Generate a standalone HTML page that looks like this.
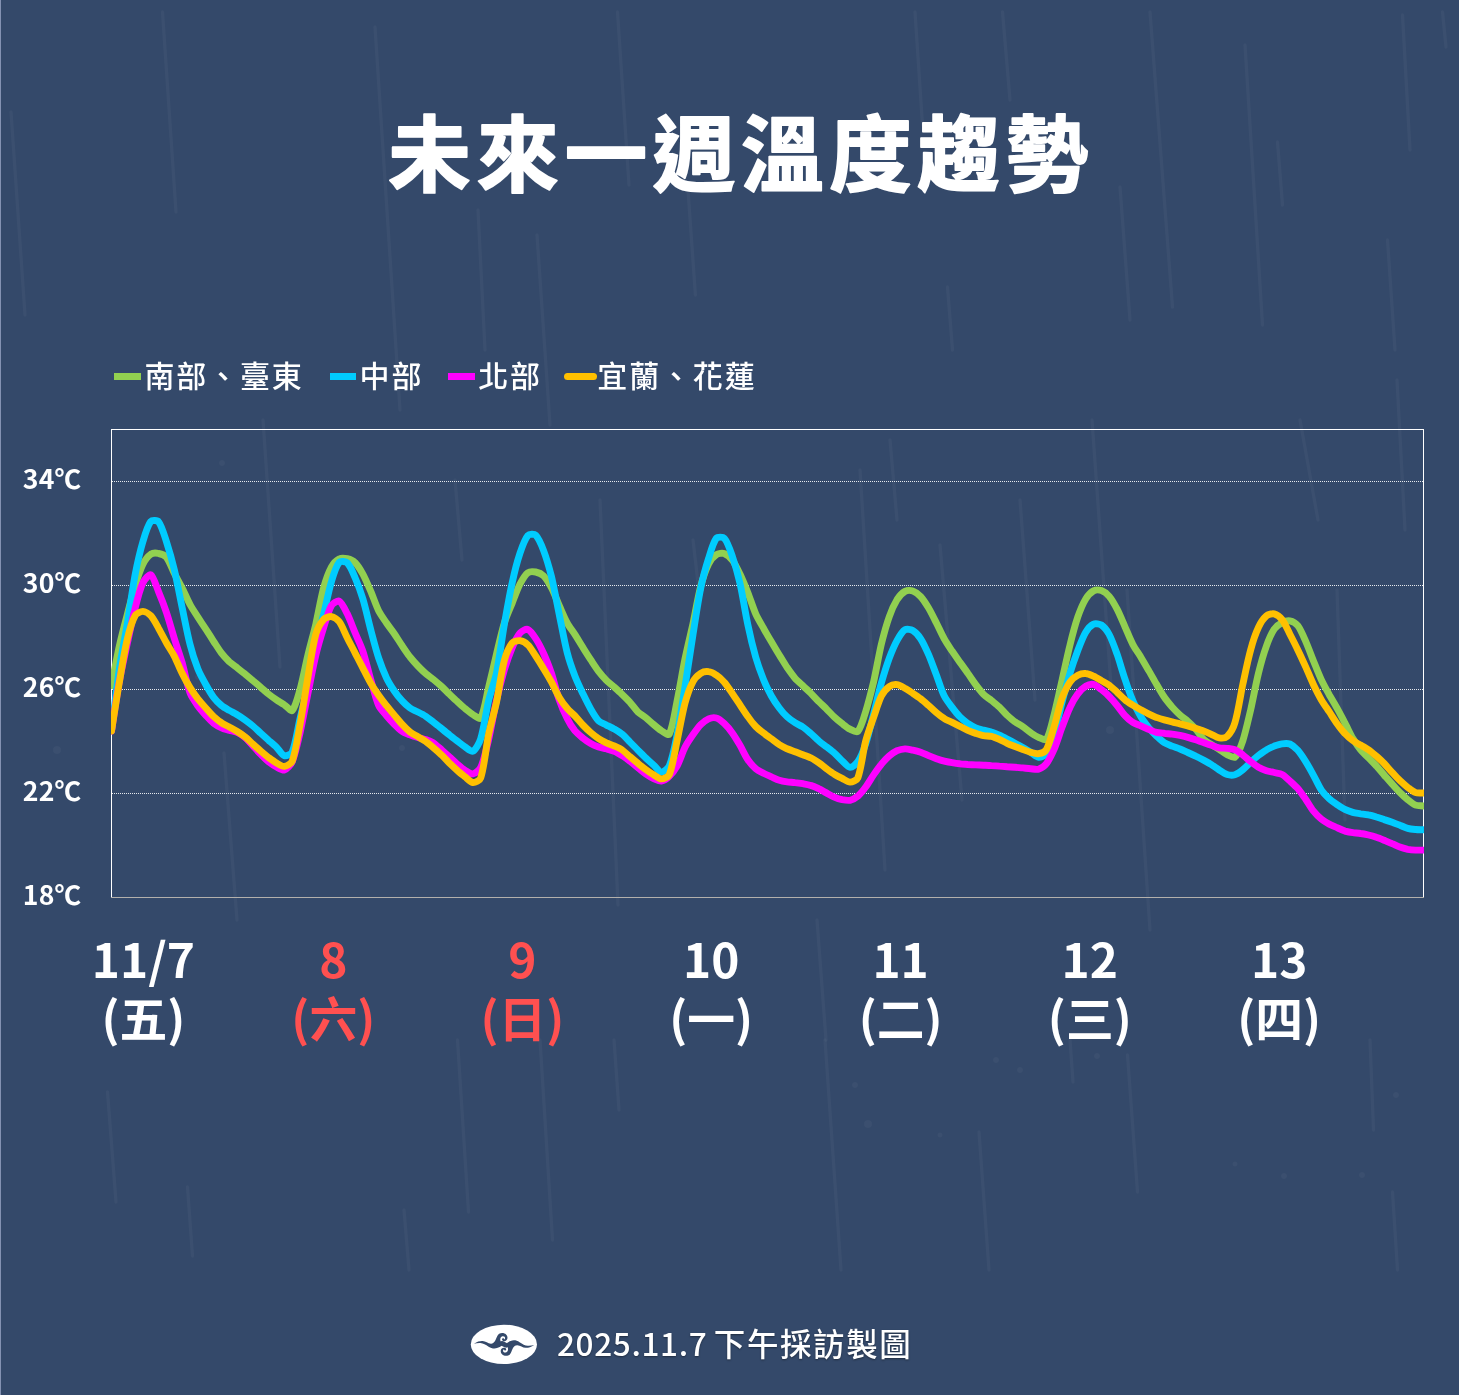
<!DOCTYPE html>
<html lang="zh-Hant">
<head>
<meta charset="utf-8">
<title>未來一週溫度趨勢</title>
<style>
html,body{margin:0;padding:0;}
body{width:1459px;height:1395px;background:#34496a;overflow:hidden;position:relative;
  font-family:"Liberation Sans","Noto Sans CJK TC",sans-serif;color:#fff;}
#bg{position:absolute;left:0;top:0;width:1459px;height:1395px;filter:blur(.5px);}
#edge{position:absolute;left:0;top:0;width:1px;height:1395px;background:#8492b2;}
.legend{position:absolute;top:350px;height:48px;line-height:48px;font-size:30px;letter-spacing:1.85px;white-space:nowrap;
  font-family:"Noto Sans CJK TC","Liberation Sans",sans-serif;font-weight:500;}
.legend i{position:absolute;top:22.8px;height:7px;width:26.5px;display:block;}
.legend span{position:absolute;left:30px;top:0;}
.ylab{position:absolute;left:0;width:104px;text-align:center;font-family:"Noto Sans CJK TC","Liberation Sans",sans-serif;
  font-weight:700;font-size:26.6px;line-height:30px;height:30px;white-space:nowrap;letter-spacing:0.1px;}
.xlab{position:absolute;top:927.5px;width:160px;text-align:center;font-family:"Noto Sans CJK TC","Liberation Sans",sans-serif;
  font-weight:700;font-size:47.8px;line-height:59px;white-space:nowrap;}
.xlab.red{color:#ff5050;}
#chart{position:absolute;left:0;top:0;width:1459px;height:1395px;}
#foot{position:absolute;left:557px;top:1318.3px;font-size:31.5px;line-height:48px;white-space:nowrap;
  font-family:"Noto Sans CJK TC","Liberation Sans",sans-serif;font-weight:500;text-shadow:0 1px 2px rgba(0,0,0,.4);}
#foot .d{letter-spacing:.65px;}
#foot .c{letter-spacing:1.6px;margin-left:-.6px;}
#logo{position:absolute;left:470px;top:1324px;width:68px;height:41px;}
</style>
</head>
<body>
<svg id="bg" width="1459" height="1395" viewBox="0 0 1459 1395">
  <g stroke="#fff" stroke-opacity=".034" stroke-width="3.4" stroke-linecap="round" fill="none"><line x1="162.5" y1="12.0" x2="176.0" y2="212.0"/><line x1="375.0" y1="27.0" x2="400.0" y2="410.0"/><line x1="617.5" y1="12.0" x2="629.0" y2="185.0"/><line x1="11.0" y1="112.0" x2="25.0" y2="315.0"/><line x1="478.0" y1="210.0" x2="485.0" y2="350.0"/><line x1="537.0" y1="235.0" x2="550.0" y2="425.0"/><line x1="688.0" y1="190.0" x2="695.4" y2="295.0"/><line x1="915.0" y1="12.0" x2="922.5" y2="125.0"/><line x1="1002.5" y1="12.0" x2="1010.0" y2="100.0"/><line x1="1150.0" y1="12.0" x2="1172.5" y2="307.0"/><line x1="1245.0" y1="45.0" x2="1262.5" y2="325.0"/><line x1="1277.5" y1="142.0" x2="1282.5" y2="205.0"/><line x1="1120.0" y1="187.0" x2="1130.0" y2="320.0"/><line x1="947.5" y1="287.0" x2="952.5" y2="350.0"/><line x1="1402.5" y1="15.0" x2="1410.0" y2="150.0"/><line x1="1442.5" y1="12.0" x2="1446.0" y2="47.0"/><line x1="1387.5" y1="240.0" x2="1395.0" y2="350.0"/><line x1="107.5" y1="1092.0" x2="116.0" y2="1202.0"/><line x1="187.5" y1="1187.0" x2="192.5" y2="1256.0"/><line x1="457.5" y1="1040.0" x2="468.5" y2="1212.0"/><line x1="404.0" y1="1210.0" x2="409.0" y2="1270.0"/><line x1="540.0" y1="1040.0" x2="552.5" y2="1240.0"/><line x1="614.0" y1="1040.0" x2="619.0" y2="1110.0"/><line x1="825.0" y1="1040.0" x2="841.0" y2="1270.0"/><line x1="979.0" y1="1132.0" x2="989.0" y2="1270.0"/><line x1="1127.5" y1="1055.0" x2="1137.5" y2="1192.0"/><line x1="1070.0" y1="1040.0" x2="1073.0" y2="1082.0"/><line x1="1392.5" y1="1192.0" x2="1397.5" y2="1270.0"/><line x1="1370.0" y1="1040.0" x2="1373.5" y2="1130.0"/><line x1="263.0" y1="420.0" x2="280.0" y2="667.0"/><line x1="224.0" y1="753.0" x2="237.0" y2="920.0"/><line x1="600.0" y1="500.0" x2="618.0" y2="905.0"/><line x1="693.0" y1="540.0" x2="700.0" y2="600.0"/><line x1="817.0" y1="920.0" x2="826.0" y2="1040.0"/><line x1="890.0" y1="440.0" x2="897.0" y2="520.0"/><line x1="860.0" y1="470.0" x2="885.0" y2="870.0"/><line x1="940.0" y1="545.0" x2="962.0" y2="800.0"/><line x1="1092.0" y1="420.0" x2="1112.0" y2="700.0"/><line x1="1127.0" y1="590.0" x2="1150.0" y2="930.0"/><line x1="1300.0" y1="420.0" x2="1318.0" y2="520.0"/><line x1="1397" y1="380" x2="1405" y2="530"/><line x1="1337.0" y1="590.0" x2="1345.0" y2="820.0"/><line x1="1020.0" y1="500.0" x2="1035.0" y2="700.0"/><line x1="455.0" y1="480.0" x2="462.0" y2="560.0"/></g>
  <g fill="#fff" fill-opacity=".035"><circle cx="57" cy="750" r="4.0"/><circle cx="1097" cy="1056" r="3.0"/><circle cx="868" cy="1124" r="4.0"/><circle cx="1020" cy="1070" r="3.0"/><circle cx="996" cy="1060" r="3.0"/><circle cx="1284" cy="1176" r="3.0"/><circle cx="1362" cy="1175" r="3.0"/><circle cx="402" cy="748" r="3.0"/><circle cx="222" cy="463" r="3.0"/><circle cx="198" cy="677" r="3.0"/><circle cx="1110" cy="730" r="4.0"/><circle cx="855" cy="1085" r="3.0"/><circle cx="940" cy="1135" r="2.5"/><circle cx="1235" cy="1164" r="2.5"/><circle cx="1396" cy="1095" r="3.0"/></g>
</svg>
<div id="edge"></div>

<div class="legend" style="left:114.4px"><i style="background:#92d050"></i><span>南部、臺東</span></div>
<div class="legend" style="left:329.6px"><i style="background:#00ccff"></i><span>中部</span></div>
<div class="legend" style="left:448.2px"><i style="background:#ff00ff"></i><span>北部</span></div>
<div class="legend" style="left:567.3px"><i style="background:#ffc000;border-radius:4px;left:-3px;width:33px"></i><span>宜蘭、花蓮</span></div>

<div class="ylab" style="top:463.2px">34℃</div>
<div class="ylab" style="top:567.2px">30℃</div>
<div class="ylab" style="top:671.2px">26℃</div>
<div class="ylab" style="top:775.2px">22℃</div>
<div class="ylab" style="top:879.2px">18℃</div>

<svg id="chart" width="1459" height="1395" viewBox="0 0 1459 1395">
  <text id="title" x="429.5 517.7 605.9 694.1 782.3 870.5 958.7 1046.9" y="185" text-anchor="middle" font-family="'Noto Sans CJK TC','Liberation Sans',sans-serif" font-weight="700" font-size="82.5" fill="#fff" stroke="#fff" stroke-width="1.8" stroke-linejoin="round" stroke-linecap="round" paint-order="stroke">未來一週溫度趨勢</text>
  <defs><clipPath id="plot"><rect x="111" y="429" width="1313" height="469"/></clipPath></defs>
  <g stroke="#fff" stroke-opacity=".88" stroke-width="1" stroke-dasharray="1 1" fill="none" shape-rendering="crispEdges">
    <line x1="112" y1="481.5" x2="1423" y2="481.5"/>
    <line x1="112" y1="585.5" x2="1423" y2="585.5"/>
    <line x1="112" y1="689.5" x2="1423" y2="689.5"/>
    <line x1="112" y1="793.5" x2="1423" y2="793.5"/>
  </g>
  <g fill="none" shape-rendering="crispEdges">
    <line x1="111" y1="897.5" x2="1424" y2="897.5" stroke="#b3b0ac" stroke-width="1"/>
    <path d="M111.5 897V429.5H1423.5V897" stroke="#fff" stroke-width="1"/>
  </g>
  <g clip-path="url(#plot)" fill="none" stroke-width="6.9" stroke-linejoin="round" stroke-linecap="round">
<g transform="translate(0,-0.5)">
<path d="M111.5 686.0C113.7 674.9 116.9 657.3 119.4 646.2C121.3 637.5 124.9 623.9 127.2 615.3C129.3 607.1 132.6 594.3 135.1 586.2C137.0 580.1 140.1 570.4 142.9 564.7C144.5 561.5 148.1 556.6 150.8 554.7C152.5 553.6 156.6 553.5 158.6 554.0C161.0 554.4 165.0 556.1 166.5 557.9C169.4 561.7 172.1 569.5 174.4 574.0C176.5 578.1 180.1 584.4 182.2 588.6C184.5 593.1 187.6 600.6 190.1 605.1C192.0 608.7 195.7 614.1 197.9 617.6C200.1 621.0 203.6 626.3 205.8 629.6C208.0 633.0 211.4 638.4 213.6 641.8C215.8 645.1 219.1 650.5 221.5 653.6C223.5 656.2 227.0 659.9 229.3 662.2C231.4 664.1 235.0 666.6 237.2 668.3C239.4 670.1 242.9 672.9 245.1 674.6C247.3 676.5 250.7 679.3 252.9 681.2C255.1 683.0 258.6 685.9 260.8 687.8C263.0 689.7 266.3 692.8 268.6 694.6C270.7 696.3 274.2 698.8 276.5 700.4C278.6 701.8 282.2 703.8 284.3 705.3C286.6 706.8 290.9 712.3 292.2 711.0C295.3 707.9 298.3 695.8 300.1 689.7C302.7 680.3 305.6 665.0 307.9 655.5C310.0 646.8 313.7 633.4 315.8 624.7C318.1 614.6 320.9 598.5 323.6 588.5C325.3 582.4 328.6 572.9 331.5 567.5C333.0 564.8 336.7 560.7 339.3 559.4C341.1 558.4 345.1 558.7 347.2 559.2C349.5 559.7 353.4 561.4 355.0 563.1C357.8 565.7 361.0 571.2 362.9 574.6C365.4 579.3 368.7 587.0 370.8 591.8C373.1 597.2 376.0 605.9 378.6 611.2C380.4 614.8 384.2 620.1 386.5 623.5C388.6 626.6 392.2 631.1 394.3 634.2C396.6 637.5 399.9 643.0 402.2 646.3C404.3 649.5 407.7 654.5 410.0 657.5C412.1 660.1 415.6 664.1 417.9 666.5C420.0 668.7 423.5 672.1 425.8 674.1C427.8 675.9 431.5 678.4 433.6 680.1C435.9 682.0 439.3 684.9 441.5 686.9C443.7 688.9 447.1 692.4 449.3 694.5C451.5 696.6 454.9 699.9 457.2 701.9C459.3 703.9 462.8 707.1 465.0 709.0C467.2 710.7 470.5 713.6 472.9 715.1C474.9 716.3 479.8 720.2 480.7 718.6C484.2 712.6 486.5 696.5 488.6 687.9C490.9 678.6 494.2 663.8 496.5 654.5C498.6 645.8 501.7 632.0 504.3 623.5C506.1 617.8 509.9 609.2 512.2 603.6C514.3 598.2 517.4 589.6 520.0 584.5C521.8 581.1 525.1 575.3 527.9 573.2C529.5 572.0 533.7 572.1 535.7 572.5C538.1 573.0 541.9 574.7 543.6 576.4C546.3 579.2 549.6 584.8 551.5 588.3C554.0 593.1 557.1 601.2 559.3 606.2C561.5 611.1 564.6 618.8 567.2 623.5C569.0 626.9 572.9 631.9 575.0 635.2C577.3 638.7 580.6 644.4 582.9 647.9C585.0 651.4 588.5 656.8 590.7 660.2C592.9 663.5 596.2 668.7 598.6 671.8C600.6 674.4 604.1 678.4 606.4 680.8C608.5 682.9 612.1 685.6 614.3 687.6C616.5 689.6 620.0 692.8 622.2 694.9C624.4 697.0 627.9 700.4 630.0 702.8C632.3 705.3 635.4 710.0 637.9 712.4C639.8 714.3 643.6 716.4 645.7 718.1C648.0 719.9 651.3 723.1 653.6 725.0C655.7 726.8 659.1 729.7 661.4 731.2C663.5 732.4 668.4 736.3 669.3 734.6C672.8 727.8 675.2 710.4 677.2 700.9C679.6 689.3 682.6 670.9 685.0 659.3C687.0 649.5 690.7 634.3 692.9 624.5C695.1 614.0 698.0 597.3 700.7 586.9C702.4 580.4 705.7 570.3 708.6 564.4C710.1 561.4 713.8 556.8 716.4 555.1C718.2 553.9 722.4 553.4 724.3 554.1C726.8 554.9 730.5 558.2 732.1 560.4C734.9 563.9 738.0 570.5 740.0 574.6C742.4 579.7 745.8 588.0 747.9 593.2C750.2 599.1 753.2 608.5 755.7 614.3C757.6 618.5 761.3 624.8 763.6 628.8C765.7 632.7 769.2 638.6 771.4 642.3C773.6 646.0 777.1 651.8 779.3 655.5C781.5 659.0 784.8 664.6 787.1 668.1C789.2 671.1 792.6 675.9 795.0 678.7C797.0 681.0 800.6 684.1 802.9 686.2C805.0 688.3 808.6 691.5 810.7 693.6C813.0 695.9 816.3 699.7 818.6 701.9C820.7 704.1 824.3 707.2 826.4 709.4C828.7 711.6 832.0 715.4 834.3 717.6C836.4 719.6 839.9 722.4 842.1 724.1C844.3 725.8 847.6 728.5 850.0 729.7C852.0 730.7 856.6 733.4 857.8 732.0C861.0 728.4 863.9 717.7 865.7 711.9C868.3 703.8 871.6 690.7 873.6 682.4C876.0 671.9 878.9 655.0 881.4 644.5C883.3 636.8 886.6 624.6 889.3 617.1C891.0 612.2 894.4 604.4 897.1 600.0C898.8 597.4 902.4 593.3 905.0 591.9C906.8 591.0 910.9 590.9 912.8 591.5C915.3 592.3 918.9 595.1 920.7 597.1C923.3 599.9 926.6 605.2 928.6 608.5C931.0 612.6 934.3 619.3 936.4 623.5C938.7 628.0 941.8 635.1 944.3 639.4C946.2 643.0 949.9 648.3 952.1 651.6C954.3 654.8 957.8 659.7 960.0 662.9C962.2 665.9 965.7 670.7 967.8 673.8C970.1 676.9 973.4 682.0 975.7 685.1C977.8 687.9 981.1 692.3 983.5 694.8C985.5 696.8 989.2 699.2 991.4 700.9C993.6 702.7 997.2 705.5 999.3 707.5C1001.6 709.7 1004.8 713.6 1007.1 715.8C1009.2 717.7 1012.6 720.7 1015.0 722.3C1017.0 723.8 1020.7 725.6 1022.8 727.1C1025.1 728.6 1028.4 731.7 1030.7 733.2C1032.8 734.7 1036.2 736.8 1038.5 737.8C1040.6 738.7 1045.4 741.4 1046.4 739.9C1049.8 734.8 1052.3 721.5 1054.3 714.3C1056.7 704.9 1059.9 690.0 1062.1 680.5C1064.3 670.7 1067.5 655.3 1070.0 645.5C1071.9 637.6 1075.2 625.1 1077.8 617.4C1079.6 612.3 1082.9 604.1 1085.7 599.5C1087.3 596.9 1090.9 592.8 1093.5 591.4C1095.3 590.4 1099.4 590.4 1101.4 591.0C1103.8 591.9 1107.5 594.7 1109.2 596.8C1111.9 600.0 1115.2 606.0 1117.1 609.7C1119.6 614.5 1122.8 622.4 1125.0 627.3C1127.2 632.2 1130.3 640.1 1132.8 644.8C1134.7 648.5 1138.5 653.9 1140.7 657.4C1142.9 661.1 1146.4 667.0 1148.5 670.8C1150.8 674.6 1154.1 680.7 1156.4 684.5C1158.5 688.2 1161.8 694.0 1164.2 697.5C1166.2 700.5 1169.8 704.8 1172.1 707.5C1174.2 709.8 1177.6 713.4 1180.0 715.5C1182.0 717.4 1185.7 719.8 1187.8 721.7C1190.1 723.7 1193.6 727.2 1195.7 729.5C1198.0 732.2 1201.0 737.1 1203.5 739.6C1205.4 741.5 1209.1 743.6 1211.4 745.0C1213.5 746.5 1217.1 748.5 1219.2 749.9C1221.5 751.4 1224.7 754.0 1227.1 755.2C1229.1 756.2 1233.6 759.0 1234.9 757.7C1238.0 755.1 1241.2 746.1 1242.8 741.3C1245.6 732.8 1248.6 719.0 1250.7 710.2C1253.0 700.0 1256.0 683.7 1258.5 673.6C1260.4 665.9 1263.7 654.0 1266.4 646.6C1268.1 641.7 1271.4 633.9 1274.2 629.6C1275.8 627.3 1279.6 624.4 1282.1 623.1C1284.0 622.1 1287.9 620.9 1289.9 621.3C1292.3 621.8 1296.3 624.2 1297.8 626.1C1300.7 629.9 1303.7 637.3 1305.7 641.8C1308.1 647.2 1311.3 656.0 1313.5 661.5C1315.7 666.8 1318.9 675.2 1321.4 680.4C1323.3 684.6 1327.0 691.1 1329.2 695.2C1331.4 699.0 1334.9 704.9 1337.1 708.8C1339.3 712.9 1342.8 719.3 1344.9 723.5C1347.2 727.7 1350.4 734.7 1352.8 738.9C1354.8 742.2 1358.2 747.3 1360.6 750.3C1362.6 752.8 1366.3 756.1 1368.5 758.4C1370.7 760.6 1374.2 764.2 1376.4 766.5C1378.6 769.0 1382.0 773.1 1384.2 775.6C1386.4 778.1 1389.8 782.1 1392.1 784.5C1394.2 786.9 1397.6 790.7 1399.9 793.0C1402.0 795.1 1405.5 798.4 1407.8 800.2C1409.9 801.9 1413.2 804.6 1415.6 805.6C1417.6 806.4 1421.3 806.2 1423.5 806.5" stroke="#92d050"/>
<path d="M111.5 731.0C113.7 713.6 116.8 686.3 119.4 669.0C121.2 656.6 125.1 637.3 127.2 624.9C129.5 611.0 132.5 589.1 135.1 575.3C136.9 565.9 140.2 551.3 142.9 542.1C144.6 536.3 147.6 526.0 150.8 521.9C152.0 520.5 157.5 520.8 158.6 522.3C161.9 526.5 164.6 536.7 166.5 542.4C169.0 550.2 172.5 562.6 174.4 570.5C176.9 581.1 180.0 597.8 182.2 608.4C184.4 618.7 187.4 635.0 190.1 645.2C191.8 652.2 195.3 662.9 197.9 669.6C199.7 674.1 203.4 680.8 205.8 685.0C207.8 688.7 211.1 694.5 213.6 697.8C215.5 700.3 219.1 704.0 221.5 706.0C223.5 707.6 227.1 709.6 229.3 710.9C231.5 712.2 235.1 713.9 237.2 715.2C239.5 716.5 242.9 718.9 245.1 720.5C247.3 722.1 250.8 724.7 252.9 726.5C255.2 728.5 258.6 731.7 260.8 733.7C263.0 735.7 266.4 738.8 268.6 740.8C270.8 742.7 274.4 745.7 276.5 747.7C278.8 750.0 281.8 755.4 284.3 756.1C286.2 756.7 291.3 754.6 292.2 752.5C295.7 744.1 297.8 728.2 300.1 718.7C302.2 709.7 306.0 695.6 307.9 686.5C310.4 674.6 313.2 655.7 315.8 643.9C317.6 635.7 321.6 623.0 323.6 614.8C326.0 605.6 328.7 590.9 331.5 581.9C333.1 576.3 336.1 566.5 339.3 562.7C340.5 561.3 345.8 561.9 347.2 563.3C350.2 566.2 353.2 573.7 355.0 578.0C357.6 583.9 361.1 593.5 362.9 599.6C365.5 608.2 368.5 621.9 370.8 630.5C372.9 638.4 376.1 650.7 378.6 658.4C380.5 664.1 383.9 673.0 386.5 678.5C388.3 682.3 391.9 688.0 394.3 691.5C396.3 694.5 399.8 698.9 402.2 701.4C404.2 703.6 407.6 706.8 410.0 708.5C412.0 709.9 415.7 711.3 417.9 712.5C420.1 713.6 423.7 715.4 425.8 716.8C428.1 718.3 431.4 721.1 433.6 722.8C435.8 724.5 439.3 727.2 441.5 729.0C443.7 730.8 447.1 733.6 449.3 735.3C451.5 737.1 455.0 739.8 457.2 741.5C459.4 743.2 462.7 745.9 465.0 747.4C467.1 748.8 471.2 752.7 472.9 751.8C475.6 750.4 479.5 743.2 480.7 739.3C483.9 729.0 486.1 711.8 488.6 701.2C490.5 693.4 494.8 681.4 496.5 673.5C499.2 660.1 502.0 638.6 504.3 625.1C506.4 613.3 509.6 594.8 512.2 583.2C514.0 574.8 517.3 561.7 520.0 553.6C521.7 548.5 524.8 539.5 527.9 535.9C529.2 534.4 534.4 534.3 535.7 535.6C538.8 538.6 541.9 546.6 543.6 551.1C546.3 558.2 549.6 569.7 551.5 577.1C554.0 587.7 557.1 604.5 559.3 615.2C561.5 625.8 564.5 642.6 567.2 653.1C568.9 659.8 572.5 670.2 575.0 676.7C576.9 681.7 580.6 689.3 582.9 694.2C585.0 698.5 588.3 705.3 590.7 709.4C592.7 712.9 595.9 718.5 598.6 721.3C600.3 723.1 604.2 724.4 606.4 725.6C608.6 726.7 612.2 728.3 614.3 729.6C616.6 730.9 620.1 733.1 622.2 734.7C624.5 736.7 627.8 740.4 630.0 742.6C632.2 744.8 635.7 748.3 637.9 750.6C640.1 752.8 643.5 756.2 645.7 758.4C647.9 760.4 651.4 763.5 653.6 765.5C655.8 767.5 659.2 772.5 661.4 772.6C663.6 772.7 668.3 768.8 669.3 766.3C672.7 758.2 675.4 743.6 677.2 734.6C679.8 721.4 682.9 700.5 685.0 687.2C687.3 672.8 690.6 650.1 692.9 635.7C695.0 622.5 698.0 601.7 700.7 588.7C702.4 580.2 706.0 567.1 708.6 558.9C710.4 553.1 713.2 542.9 716.4 538.7C717.6 537.2 723.0 537.2 724.3 538.7C727.4 542.1 730.4 551.1 732.1 556.1C734.8 563.8 738.2 576.1 740.0 584.1C742.6 595.5 745.4 613.9 747.9 625.4C749.8 634.5 753.2 648.7 755.7 657.6C757.6 664.1 761.1 674.0 763.6 680.2C765.5 684.9 769.0 692.1 771.4 696.5C773.4 700.0 776.9 705.3 779.3 708.5C781.3 711.2 784.7 715.1 787.1 717.3C789.1 719.2 792.7 721.7 795.0 723.2C797.1 724.6 800.8 726.1 802.9 727.5C805.2 729.1 808.6 732.0 810.7 733.9C813.0 735.8 816.3 739.3 818.6 741.2C820.7 743.1 824.2 745.6 826.4 747.3C828.6 749.0 832.2 751.6 834.3 753.5C836.6 755.5 839.9 759.2 842.1 761.3C844.2 763.2 847.7 767.7 850.0 767.8C852.1 768.0 856.4 764.4 857.8 762.2C860.8 757.8 864.0 749.5 865.7 744.3C868.4 736.1 871.4 722.9 873.6 714.5C875.8 705.8 879.0 692.0 881.4 683.4C883.4 676.4 886.8 665.4 889.3 658.6C891.2 653.5 894.5 645.5 897.1 640.8C898.9 637.6 902.2 632.0 905.0 630.3C906.6 629.3 911.0 629.9 912.8 631.0C915.4 632.5 919.0 636.6 920.7 639.3C923.4 643.4 926.6 650.6 928.6 655.1C931.0 660.7 934.2 669.7 936.4 675.4C938.6 681.3 941.5 690.9 944.3 696.6C945.9 700.0 949.8 704.8 952.1 707.9C954.2 710.7 957.6 715.0 960.0 717.4C962.0 719.4 965.5 722.2 967.8 723.9C969.9 725.3 973.4 727.3 975.7 728.3C977.8 729.3 981.3 730.1 983.5 730.7C985.7 731.3 989.3 731.8 991.4 732.5C993.7 733.2 997.1 734.7 999.3 735.7C1001.5 736.7 1004.9 738.4 1007.1 739.5C1009.3 740.7 1012.8 742.6 1015.0 743.8C1017.2 745.0 1020.7 746.7 1022.8 747.9C1025.1 749.2 1028.5 751.5 1030.7 752.8C1032.9 754.2 1036.3 757.6 1038.5 757.8C1040.7 758.0 1045.2 756.1 1046.4 754.2C1049.6 749.4 1052.5 739.7 1054.3 733.8C1056.9 725.2 1059.8 711.4 1062.1 702.7C1064.2 694.6 1067.5 681.8 1070.0 673.8C1071.9 667.3 1075.4 657.2 1077.8 650.9C1079.8 645.7 1082.9 637.4 1085.7 632.7C1087.3 630.0 1091.0 625.8 1093.5 624.6C1095.4 623.8 1099.7 624.4 1101.4 625.5C1104.1 627.3 1107.6 632.0 1109.2 635.0C1112.0 640.2 1115.1 649.1 1117.1 654.7C1119.5 661.6 1122.6 672.7 1125.0 679.6C1127.0 685.7 1130.3 695.3 1132.8 701.2C1134.7 705.7 1138.2 712.8 1140.7 717.1C1142.6 720.3 1146.2 725.1 1148.5 728.0C1150.6 730.5 1154.1 734.2 1156.4 736.4C1158.5 738.4 1161.8 741.6 1164.2 743.1C1166.2 744.4 1169.9 745.7 1172.1 746.6C1174.3 747.5 1177.8 748.6 1180.0 749.5C1182.2 750.4 1185.6 752.0 1187.8 753.0C1190.0 754.0 1193.5 755.6 1195.7 756.7C1197.9 757.7 1201.4 759.5 1203.5 760.6C1205.8 761.8 1209.2 763.8 1211.4 765.1C1213.6 766.5 1217.0 769.1 1219.2 770.5C1221.4 771.9 1224.7 774.3 1227.1 775.0C1229.1 775.6 1232.9 775.8 1234.9 775.2C1237.3 774.5 1240.8 771.9 1242.8 770.3C1245.2 768.4 1248.4 764.9 1250.7 762.8C1252.8 760.8 1256.2 757.7 1258.5 755.9C1260.6 754.3 1264.1 751.7 1266.4 750.4C1268.5 749.1 1272.0 747.5 1274.2 746.6C1276.4 745.8 1279.8 744.6 1282.1 744.3C1284.2 744.0 1288.0 743.8 1289.9 744.5C1292.4 745.6 1295.9 748.7 1297.8 750.8C1300.3 753.7 1303.6 758.8 1305.7 762.1C1308.0 765.8 1311.4 771.9 1313.5 775.8C1315.8 779.9 1318.8 786.7 1321.4 790.6C1323.2 793.3 1326.8 797.0 1329.2 799.2C1331.2 801.1 1334.8 803.5 1337.1 805.1C1339.2 806.5 1342.6 808.8 1344.9 809.9C1347.0 811.0 1350.5 812.2 1352.8 812.9C1354.9 813.5 1358.4 813.9 1360.6 814.3C1362.8 814.6 1366.3 814.9 1368.5 815.4C1370.7 815.8 1374.2 816.8 1376.4 817.5C1378.6 818.1 1382.0 819.3 1384.2 820.1C1386.4 820.8 1389.9 822.0 1392.1 822.8C1394.3 823.6 1397.8 824.8 1399.9 825.7C1402.1 826.5 1405.5 828.3 1407.8 828.9C1409.9 829.5 1413.4 829.8 1415.6 830.0C1417.8 830.2 1421.3 830.2 1423.5 830.3" stroke="#00ccff"/>
<path d="M111.5 731.5C113.7 717.5 116.8 695.5 119.4 681.6C121.2 671.2 125.0 654.9 127.2 644.5C129.4 634.5 132.5 618.8 135.1 608.9C136.9 601.6 139.8 589.9 142.9 583.3C144.2 580.5 149.1 574.4 150.8 575.3C153.5 576.9 156.6 587.5 158.6 592.3C161.0 598.0 164.5 607.2 166.5 613.1C168.9 620.3 172.1 631.9 174.4 639.2C176.5 646.0 180.2 656.4 182.2 663.2C184.6 671.7 187.1 685.4 190.1 693.6C191.5 697.5 195.5 703.0 197.9 706.4C199.9 709.2 203.5 713.3 205.8 715.8C207.9 718.1 211.2 721.9 213.6 723.8C215.6 725.4 219.2 727.3 221.5 728.3C223.6 729.3 227.1 730.1 229.3 730.8C231.5 731.4 235.2 731.9 237.2 732.9C239.6 734.0 243.1 736.3 245.1 738.0C247.5 740.0 250.7 743.9 252.9 746.3C255.1 748.7 258.5 752.6 260.8 754.9C262.9 757.1 266.3 760.4 268.6 762.3C270.7 763.9 274.2 766.3 276.5 767.5C278.6 768.6 282.5 771.1 284.3 770.5C286.9 769.6 291.0 765.1 292.2 762.3C295.4 754.7 298.2 741.3 300.1 733.1C302.6 722.2 305.7 704.9 307.9 694.0C310.1 683.3 313.2 666.5 315.8 655.9C317.6 648.0 321.2 635.9 323.6 628.2C325.6 621.9 328.3 611.3 331.5 605.9C332.7 603.9 337.7 600.8 339.3 601.7C342.1 603.2 345.3 610.5 347.2 614.2C349.7 619.3 352.8 627.7 355.0 633.0C357.2 638.3 361.1 646.4 362.9 651.8C365.5 659.6 368.5 672.3 370.8 680.2C372.9 687.4 375.6 699.1 378.6 705.8C380.0 709.1 384.2 713.4 386.5 716.2C388.6 718.7 392.0 722.4 394.3 724.8C396.4 726.9 399.7 730.3 402.2 731.9C404.1 733.3 407.8 734.5 410.0 735.4C412.2 736.3 415.7 737.4 417.9 738.0C420.1 738.7 423.6 739.4 425.8 740.1C428.0 740.9 431.6 742.3 433.6 743.5C436.0 745.1 439.3 748.3 441.5 750.2C443.7 752.2 447.1 755.3 449.3 757.3C451.5 759.3 454.9 762.6 457.2 764.6C459.3 766.4 462.7 769.3 465.0 770.8C467.1 772.0 470.9 774.8 472.9 774.4C475.3 774.0 479.6 770.5 480.7 768.0C484.0 760.9 486.7 748.0 488.6 740.1C491.1 729.2 494.0 711.9 496.5 701.0C498.4 692.5 501.8 679.1 504.3 670.6C506.2 664.3 509.6 654.3 512.2 648.1C514.0 643.8 517.1 636.8 520.0 633.5C521.5 631.7 526.0 629.2 527.9 629.9C530.4 630.8 533.9 636.2 535.7 639.0C538.3 642.9 541.7 649.7 543.6 654.0C546.1 659.4 549.5 668.2 551.5 673.9C553.9 681.3 556.7 693.3 559.3 700.7C561.1 705.9 564.6 714.0 567.2 718.9C569.0 722.6 572.5 728.2 575.0 731.4C576.9 733.7 580.6 736.7 582.9 738.6C585.0 740.3 588.4 742.8 590.7 744.1C592.8 745.3 596.3 746.8 598.6 747.6C600.7 748.3 604.3 748.7 606.4 749.3C608.7 749.9 612.2 751.0 614.3 751.9C616.6 752.9 620.0 754.9 622.2 756.2C624.4 757.6 627.9 760.1 630.0 761.8C632.3 763.5 635.7 766.4 637.9 768.2C640.1 769.9 643.4 772.8 645.7 774.4C647.8 775.8 651.3 778.0 653.6 779.1C655.7 780.0 659.4 781.9 661.4 781.6C663.8 781.3 667.5 778.7 669.3 776.9C671.9 774.4 675.4 769.6 677.2 766.4C679.8 761.4 682.5 752.8 685.0 747.8C686.9 744.1 690.5 738.7 692.9 735.3C694.9 732.4 698.2 727.7 700.7 725.1C702.6 723.2 706.2 720.4 708.6 719.4C710.5 718.5 714.5 717.9 716.4 718.5C718.9 719.2 722.3 722.2 724.3 724.1C726.7 726.4 730.2 730.5 732.1 733.2C734.6 736.6 737.9 742.2 740.0 745.8C742.3 749.8 745.3 756.5 747.9 760.3C749.7 763.0 753.2 766.9 755.7 769.1C757.6 770.7 761.3 772.6 763.6 773.8C765.7 774.9 769.2 776.3 771.4 777.3C773.6 778.3 777.0 780.1 779.3 780.8C781.4 781.5 784.9 782.1 787.1 782.4C789.3 782.7 792.8 782.8 795.0 783.1C797.2 783.3 800.7 783.8 802.9 784.2C805.1 784.6 808.6 785.2 810.7 785.9C813.0 786.6 816.4 788.0 818.6 789.1C820.8 790.1 824.2 792.2 826.4 793.4C828.6 794.6 832.0 796.6 834.3 797.6C836.4 798.5 839.9 799.7 842.1 800.2C844.3 800.6 847.9 801.2 850.0 800.8C852.3 800.3 856.0 798.3 857.8 796.7C860.4 794.6 863.7 790.2 865.7 787.5C868.1 784.2 871.3 778.7 873.6 775.4C875.7 772.3 879.0 767.5 881.4 764.7C883.4 762.2 886.9 758.5 889.3 756.4C891.3 754.7 894.8 752.3 897.1 751.2C899.2 750.3 902.8 749.5 905.0 749.4C907.2 749.3 910.7 750.2 912.8 750.6C915.1 751.1 918.6 752.0 920.7 752.7C923.0 753.5 926.3 755.2 928.6 756.2C930.7 757.1 934.2 758.4 936.4 759.2C938.6 760.0 942.0 761.1 944.3 761.7C946.4 762.2 949.9 762.9 952.1 763.2C954.3 763.6 957.8 764.1 960.0 764.3C962.2 764.6 965.6 764.8 967.8 765.0C970.0 765.1 973.5 765.3 975.7 765.4C977.9 765.5 981.3 765.6 983.5 765.7C985.7 765.8 989.2 765.9 991.4 766.1C993.6 766.2 997.1 766.4 999.3 766.6C1001.5 766.7 1004.9 767.0 1007.1 767.2C1009.3 767.3 1012.8 767.6 1015.0 767.8C1017.2 768.0 1020.6 768.2 1022.8 768.4C1025.0 768.6 1028.5 769.1 1030.7 769.2C1032.9 769.4 1036.6 770.3 1038.5 769.7C1041.0 768.9 1044.8 766.3 1046.4 764.2C1049.2 760.6 1052.4 753.7 1054.3 749.4C1056.8 743.5 1059.8 733.7 1062.1 727.6C1064.2 722.0 1067.4 713.2 1070.0 707.9C1071.8 703.9 1075.2 697.8 1077.8 694.4C1079.6 691.9 1083.1 688.2 1085.7 686.7C1087.5 685.6 1091.5 684.4 1093.5 684.9C1095.9 685.4 1099.3 688.5 1101.4 690.1C1103.7 691.9 1107.2 694.9 1109.2 697.0C1111.6 699.4 1115.0 703.4 1117.1 706.0C1119.4 708.8 1122.5 713.5 1125.0 716.1C1126.9 718.2 1130.4 721.2 1132.8 722.8C1134.8 724.1 1138.5 725.3 1140.7 726.3C1142.9 727.3 1146.3 728.8 1148.5 729.8C1150.7 730.7 1154.1 732.3 1156.4 732.9C1158.5 733.4 1162.0 733.6 1164.2 733.8C1166.4 734.1 1169.9 734.3 1172.1 734.6C1174.3 734.9 1177.8 735.5 1180.0 735.9C1182.2 736.4 1185.6 737.2 1187.8 737.8C1190.0 738.4 1193.5 739.5 1195.7 740.3C1197.9 741.0 1201.3 742.3 1203.5 743.0C1205.7 743.8 1209.2 745.1 1211.4 745.8C1213.6 746.5 1217.0 747.9 1219.2 748.3C1221.4 748.7 1224.9 748.5 1227.1 748.8C1229.3 749.1 1232.9 749.4 1234.9 750.2C1237.3 751.2 1240.7 753.8 1242.8 755.4C1245.1 757.1 1248.4 760.3 1250.7 762.1C1252.8 763.8 1256.2 766.3 1258.5 767.7C1260.6 768.9 1264.1 770.5 1266.4 771.3C1268.5 772.0 1272.0 772.5 1274.2 773.0C1276.4 773.6 1280.1 774.0 1282.1 775.0C1284.5 776.3 1287.8 779.6 1289.9 781.5C1292.2 783.6 1295.8 786.8 1297.8 789.1C1300.2 791.9 1303.5 796.8 1305.7 799.8C1307.9 803.1 1311.0 808.6 1313.5 811.7C1315.4 814.1 1319.0 817.7 1321.4 819.7C1323.4 821.3 1326.9 823.4 1329.2 824.6C1331.3 825.7 1334.9 827.2 1337.1 828.2C1339.3 829.2 1342.7 830.8 1344.9 831.6C1347.1 832.2 1350.6 832.9 1352.8 833.2C1355.0 833.5 1358.5 833.6 1360.6 834.0C1362.9 834.3 1366.3 835.0 1368.5 835.5C1370.7 836.0 1374.2 837.0 1376.4 837.8C1378.6 838.5 1382.0 839.9 1384.2 840.8C1386.4 841.7 1389.9 843.1 1392.1 844.1C1394.3 845.0 1397.7 846.8 1399.9 847.6C1402.1 848.4 1405.6 849.3 1407.8 849.8C1410.0 850.2 1413.4 850.5 1415.6 850.6C1417.8 850.7 1421.3 850.6 1423.5 850.6" stroke="#ff00ff"/>
<path d="M111.5 731.5C113.7 717.8 117.0 696.2 119.4 682.5C121.4 670.6 124.4 651.9 127.2 640.1C128.8 633.3 131.8 622.0 135.1 616.2C136.2 614.1 140.7 611.9 142.9 611.9C145.1 611.9 149.1 614.4 150.8 616.2C153.5 619.1 156.6 625.3 158.6 628.9C161.0 632.9 164.2 639.5 166.5 643.5C168.6 647.3 172.4 653.0 174.4 656.8C176.8 661.5 179.8 669.2 182.2 673.9C184.2 678.0 187.7 684.4 190.1 688.2C192.1 691.5 195.6 696.4 197.9 699.4C200.0 702.0 203.5 706.0 205.8 708.5C207.9 710.9 211.3 714.8 213.6 717.0C215.7 718.9 219.1 721.8 221.5 723.3C223.5 724.7 227.2 726.3 229.3 727.5C231.6 728.7 235.1 730.7 237.2 732.0C239.5 733.4 243.0 735.7 245.1 737.4C247.4 739.2 250.7 742.6 252.9 744.6C255.1 746.6 258.5 749.7 260.8 751.6C262.9 753.4 266.4 756.3 268.6 758.1C270.8 759.7 274.2 762.2 276.5 763.5C278.6 764.7 282.2 767.1 284.3 766.9C286.6 766.6 291.3 764.1 292.2 761.8C295.7 752.3 298.1 735.2 300.1 724.8C302.5 711.7 305.6 690.9 307.9 677.8C310.0 665.8 312.6 646.6 315.8 634.9C317.0 630.4 320.7 623.3 323.6 619.9C325.1 618.3 329.4 616.8 331.5 617.1C333.8 617.5 337.8 620.3 339.3 622.3C342.2 626.2 344.9 633.8 347.2 638.2C349.3 642.5 352.9 649.0 355.0 653.3C357.3 657.5 360.7 664.3 362.9 668.6C365.1 672.9 368.4 679.6 370.8 683.7C372.8 687.2 376.3 692.5 378.6 695.8C380.7 698.8 384.2 703.4 386.5 706.2C388.6 708.9 392.1 712.9 394.3 715.6C396.5 718.2 399.9 722.4 402.2 724.9C404.3 727.2 407.6 730.6 410.0 732.5C412.0 734.1 415.7 735.8 417.9 737.1C420.1 738.5 423.6 740.5 425.8 742.0C428.0 743.7 431.5 746.5 433.6 748.3C435.9 750.2 439.3 753.3 441.5 755.4C443.7 757.6 447.1 761.3 449.3 763.5C451.5 765.6 454.9 768.8 457.2 770.8C459.3 772.7 462.8 775.5 465.0 777.3C467.2 779.0 470.6 782.8 472.9 783.0C475.0 783.2 480.0 780.8 480.7 778.5C484.4 767.3 486.1 747.0 488.6 734.9C490.5 725.8 494.5 711.7 496.5 702.7C498.9 691.1 501.3 672.5 504.3 661.1C505.7 655.9 509.1 647.4 512.2 643.4C513.5 641.8 517.9 640.9 520.0 641.2C522.3 641.5 526.1 643.7 527.9 645.4C530.5 648.0 533.6 653.4 535.7 656.5C538.0 660.0 541.5 665.6 543.6 669.2C545.9 672.9 549.4 678.8 551.5 682.7C553.8 686.9 556.8 693.9 559.3 698.0C561.2 701.2 564.7 706.1 567.2 708.9C569.1 711.3 572.9 714.3 575.0 716.5C577.3 719.0 580.6 723.1 582.9 725.5C585.0 727.7 588.4 731.0 590.7 733.0C592.8 734.8 596.3 737.6 598.6 739.1C600.7 740.5 604.2 742.3 606.4 743.4C608.6 744.4 612.1 745.5 614.3 746.5C616.5 747.5 620.1 749.1 622.2 750.5C624.5 752.1 627.8 755.3 630.0 757.2C632.2 759.1 635.6 762.0 637.9 763.8C640.0 765.6 643.5 768.4 645.7 770.0C647.9 771.6 651.3 774.0 653.6 775.3C655.7 776.6 659.3 779.5 661.4 779.4C663.7 779.4 668.4 777.3 669.3 775.1C672.8 766.5 675.0 750.6 677.2 741.0C679.4 730.6 682.3 713.9 685.0 703.6C686.7 697.5 689.9 687.8 692.9 682.3C694.3 679.5 698.1 675.5 700.7 673.8C702.5 672.6 706.5 671.8 708.6 672.1C710.9 672.3 714.5 674.3 716.4 675.7C718.9 677.3 722.3 680.5 724.3 682.7C726.7 685.5 730.0 690.5 732.1 693.6C734.4 696.9 737.8 702.1 740.0 705.4C742.2 708.7 745.5 713.9 747.9 717.1C749.9 720.0 753.3 724.5 755.7 727.0C757.7 729.1 761.3 731.8 763.6 733.5C765.7 735.2 769.2 737.7 771.4 739.3C773.6 740.9 777.0 743.6 779.3 745.1C781.4 746.4 784.9 748.2 787.1 749.3C789.3 750.2 792.8 751.4 795.0 752.2C797.2 753.1 800.7 754.3 802.9 755.2C805.1 756.1 808.6 757.3 810.7 758.3C813.0 759.5 816.4 761.7 818.6 763.2C820.8 764.7 824.2 767.4 826.4 769.1C828.6 770.7 832.0 773.2 834.3 774.7C836.4 776.0 839.9 777.8 842.1 778.9C844.3 780.0 847.8 782.6 850.0 782.6C852.2 782.5 857.0 780.7 857.8 778.5C861.4 769.1 863.0 751.7 865.7 741.5C867.4 734.8 871.3 724.5 873.6 717.9C875.7 711.9 878.6 702.1 881.4 696.5C883.0 693.4 886.6 689.0 889.3 687.1C891.0 685.8 895.0 684.9 897.1 685.1C899.4 685.3 902.9 687.6 905.0 688.8C907.3 690.0 910.7 692.3 912.8 693.8C915.1 695.3 918.6 697.6 920.7 699.3C923.0 701.1 926.4 704.1 928.6 706.0C930.8 708.0 934.1 711.3 936.4 713.2C938.5 715.0 941.9 717.7 944.3 719.1C946.3 720.4 949.9 721.8 952.1 722.9C954.3 724.0 957.8 725.7 960.0 726.8C962.2 727.9 965.6 729.9 967.8 730.9C970.0 731.8 973.5 733.2 975.7 733.9C977.9 734.6 981.3 735.7 983.5 736.1C985.7 736.5 989.3 736.4 991.4 736.9C993.7 737.5 997.1 738.9 999.3 739.8C1001.5 740.8 1004.9 742.8 1007.1 743.8C1009.3 744.8 1012.8 746.2 1015.0 747.1C1017.2 747.9 1020.6 749.1 1022.8 749.9C1025.0 750.7 1028.4 752.2 1030.7 752.8C1032.8 753.4 1036.5 754.6 1038.5 754.2C1040.9 753.8 1045.2 752.1 1046.4 750.1C1049.6 744.4 1052.2 733.3 1054.3 726.7C1056.6 718.9 1059.4 706.4 1062.1 698.7C1063.8 694.0 1067.2 686.6 1070.0 682.5C1071.6 680.1 1075.4 677.1 1077.8 675.8C1079.8 674.7 1083.5 673.8 1085.7 674.0C1087.9 674.1 1091.4 675.7 1093.5 676.6C1095.8 677.7 1099.2 679.8 1101.4 681.1C1103.6 682.4 1107.2 684.2 1109.2 685.7C1111.6 687.5 1114.9 690.7 1117.1 692.7C1119.3 694.8 1122.6 698.4 1125.0 700.3C1127.0 702.0 1130.6 704.2 1132.8 705.6C1135.0 707.0 1138.5 709.0 1140.7 710.2C1142.9 711.4 1146.3 713.3 1148.5 714.4C1150.7 715.5 1154.1 717.1 1156.4 717.9C1158.5 718.7 1162.0 719.8 1164.2 720.4C1166.4 721.0 1169.9 721.8 1172.1 722.3C1174.3 722.9 1177.8 723.7 1180.0 724.3C1182.2 724.9 1185.6 725.8 1187.8 726.4C1190.0 727.1 1193.5 728.1 1195.7 728.8C1197.9 729.5 1201.4 730.6 1203.5 731.4C1205.8 732.3 1209.2 733.8 1211.4 734.8C1213.6 735.8 1216.9 738.1 1219.2 738.4C1221.3 738.7 1225.6 738.4 1227.1 737.0C1230.0 734.2 1233.7 727.5 1234.9 723.3C1238.1 712.9 1240.5 695.7 1242.8 684.9C1244.9 675.2 1248.0 659.8 1250.7 650.2C1252.4 643.8 1255.7 633.8 1258.5 627.8C1260.1 624.3 1263.6 618.8 1266.4 616.4C1268.0 615.0 1272.2 613.9 1274.2 614.4C1276.6 615.0 1280.5 618.1 1282.1 620.2C1284.9 623.8 1287.8 630.6 1289.9 634.7C1292.2 639.1 1295.7 646.0 1297.8 650.5C1300.1 655.2 1303.5 662.6 1305.7 667.4C1307.9 672.4 1311.2 680.3 1313.5 685.2C1315.6 689.5 1319.0 696.3 1321.4 700.4C1323.4 703.8 1327.0 708.9 1329.2 712.2C1331.4 715.5 1334.7 720.9 1337.1 724.2C1339.1 727.0 1342.5 731.5 1344.9 734.0C1346.9 736.2 1350.4 739.3 1352.8 741.1C1354.8 742.6 1358.5 744.3 1360.6 745.6C1362.9 746.9 1366.4 748.8 1368.5 750.3C1370.8 751.9 1374.2 754.8 1376.4 756.6C1378.6 758.6 1382.1 761.8 1384.2 764.0C1386.5 766.4 1389.8 770.4 1392.1 772.8C1394.2 775.2 1397.6 778.9 1399.9 781.1C1402.0 783.1 1405.5 786.2 1407.8 787.9C1409.9 789.5 1413.2 792.3 1415.6 793.1C1417.6 793.9 1421.3 793.4 1423.5 793.5" stroke="#ffc000"/>

</g>
  </g>
</svg>

<div class="xlab" style="left:63.4px">11/7<br>(五)</div>
<div class="xlab red" style="left:253.3px">8<br>(六)</div>
<div class="xlab red" style="left:442.4px">9<br>(日)</div>
<div class="xlab" style="left:631.2px">10<br>(一)</div>
<div class="xlab" style="left:820.6px">11<br>(二)</div>
<div class="xlab" style="left:1009.8px">12<br>(三)</div>
<div class="xlab" style="left:1199.2px">13<br>(四)</div>

<svg id="logo" viewBox="0 0 68 41">
  <ellipse cx="33.88" cy="20.40" rx="33.1" ry="19.7" fill="#fff"/>
  <g fill="#34496a">
    <path id="sw" d="M3.95 19.80C7.34 17.39 10.36 16.86 12.62 17.01C15.63 17.24 17.90 19.50 20.91 19.65C24.30 19.80 25.44 16.63 26.94 12.86C28.07 9.85 29.96 8.94 32.22 8.94C35.24 8.94 37.65 11.21 37.50 14.00C37.35 16.26 35.24 17.54 33.35 17.01C32.22 16.63 31.62 15.28 32.37 14.52C33.13 14.00 34.33 14.52 34.11 15.50C35.24 15.28 35.46 13.62 34.63 12.86C33.58 11.96 31.62 12.26 30.71 13.62C29.58 15.50 30.34 18.14 32.60 19.50C33.35 19.95 33.73 20.25 34.11 20.40C32.22 20.78 30.71 22.67 27.70 23.80C24.68 24.93 21.67 24.55 18.65 22.67C15.63 20.78 13.37 19.27 10.36 19.05C8.09 18.90 5.83 19.35 3.95 19.80Z"/>
    <path d="M3.95 19.80C7.34 17.39 10.36 16.86 12.62 17.01C15.63 17.24 17.90 19.50 20.91 19.65C24.30 19.80 25.44 16.63 26.94 12.86C28.07 9.85 29.96 8.94 32.22 8.94C35.24 8.94 37.65 11.21 37.50 14.00C37.35 16.26 35.24 17.54 33.35 17.01C32.22 16.63 31.62 15.28 32.37 14.52C33.13 14.00 34.33 14.52 34.11 15.50C35.24 15.28 35.46 13.62 34.63 12.86C33.58 11.96 31.62 12.26 30.71 13.62C29.58 15.50 30.34 18.14 32.60 19.50C33.35 19.95 33.73 20.25 34.11 20.40C32.22 20.78 30.71 22.67 27.70 23.80C24.68 24.93 21.67 24.55 18.65 22.67C15.63 20.78 13.37 19.27 10.36 19.05C8.09 18.90 5.83 19.35 3.95 19.80Z" transform="rotate(180 34.11 20.40)"/>
    <ellipse cx="34.11" cy="20.40" rx="4.6" ry="2.5" transform="rotate(28 34.11 20.40)"/>
  </g>
</svg>
<div id="foot"><span class="d">2025.11.7</span> <span class="c">下午採訪製圖</span></div>
</body>
</html>
